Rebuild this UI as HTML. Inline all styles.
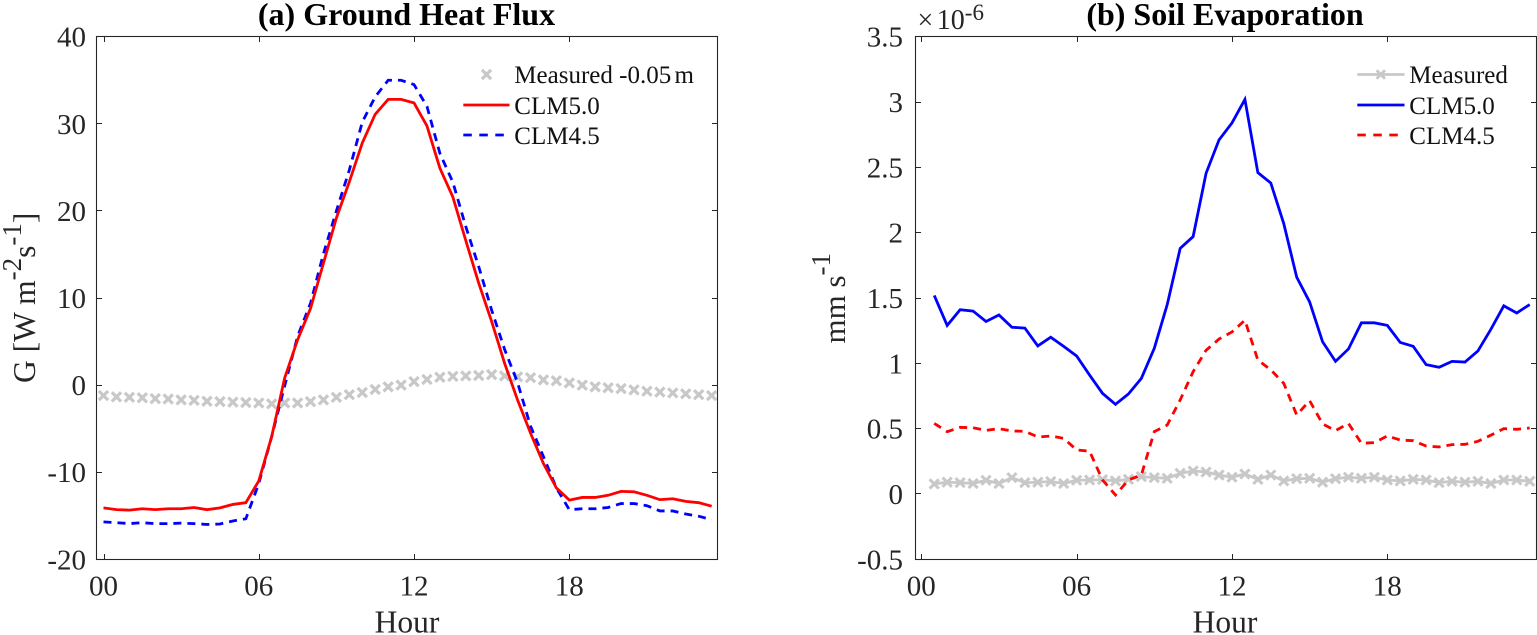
<!DOCTYPE html>
<html lang="en">
<head>
<meta charset="utf-8">
<title>Ground Heat Flux and Soil Evaporation</title>
<style>
html,body{margin:0;padding:0;background:#fff;}
body{width:1537px;height:635px;overflow:hidden;}
svg{display:block;font-family:"Liberation Serif",serif;}
</style>
</head>
<body>
<svg id="fig" xmlns="http://www.w3.org/2000/svg" width="1537" height="635" viewBox="0 0 1537 635"></svg>
<script>
var xTickValues = [0, 6, 12, 18];
var xTickLabels = ["00", "06", "12", "18"];

var hoursA = [0,0.5,1,1.5,2,2.5,3,3.5,4,4.5,5,5.5,6,6.5,7,7.5,8,8.5,9,9.5,10,10.5,11,11.5,12,12.5,13,13.5,14,14.5,15,15.5,16,16.5,17,17.5,18,18.5,19,19.5,20,20.5,21,21.5,22,22.5,23,23.5];
var groundMeasured = [-1.2,-1.35,-1.4,-1.45,-1.55,-1.6,-1.7,-1.75,-1.85,-1.9,-1.95,-2,-2.05,-2.15,-2.05,-2.05,-1.9,-1.7,-1.4,-1.1,-0.85,-0.5,-0.2,0,0.4,0.65,0.9,1,1.05,1.1,1.2,1.05,0.95,0.85,0.6,0.5,0.25,0,-0.2,-0.3,-0.4,-0.55,-0.7,-0.8,-0.9,-1,-1.1,-1.2];
var groundClm50 = [-14.1,-14.3,-14.35,-14.2,-14.3,-14.2,-14.2,-14.05,-14.3,-14.1,-13.7,-13.5,-11,-5.9,0.8,5.2,8.8,14,19.2,23.35,27.8,31.1,32.8,32.8,32.4,29.75,24.9,21.6,16.6,11.7,7.3,2.5,-1.7,-5.5,-9,-11.8,-13.2,-12.9,-12.9,-12.65,-12.2,-12.25,-12.65,-13.15,-13.05,-13.35,-13.5,-13.9];
var groundClm45 = [-15.7,-15.8,-15.9,-15.8,-15.9,-15.9,-15.85,-15.9,-16,-15.95,-15.6,-15.35,-11.3,-5.9,-0.1,5.6,9.4,15.1,20,24.7,30.2,33.1,35,35,34.5,32,26.6,23.3,18.2,13.6,8.6,4.1,0.3,-4.7,-8.2,-11.8,-14.3,-14.2,-14.2,-14.05,-13.6,-13.6,-13.85,-14.45,-14.45,-14.8,-15.05,-15.45];
var yTicksA = [-20,-10,0,10,20,30,40];
var yTickLabelsA = ["-20","-10","0","10","20","30","40"];

var hoursB = [0.5,1,1.5,2,2.5,3,3.5,4,4.5,5,5.5,6,6.5,7,7.5,8,8.5,9,9.5,10,10.5,11,11.5,12,12.5,13,13.5,14,14.5,15,15.5,16,16.5,17,17.5,18,18.5,19,19.5,20,20.5,21,21.5,22,22.5,23,23.5];
var evapMeasured = [0.077,0.09,0.087,0.08,0.105,0.08,0.125,0.087,0.09,0.095,0.08,0.105,0.107,0.11,0.1,0.112,0.133,0.125,0.12,0.158,0.176,0.168,0.145,0.128,0.153,0.112,0.145,0.1,0.117,0.12,0.09,0.117,0.128,0.12,0.128,0.107,0.1,0.112,0.107,0.087,0.097,0.09,0.097,0.08,0.107,0.107,0.097];
var evapClm50 = [1.52,1.29,1.41,1.4,1.32,1.37,1.276,1.27,1.133,1.2,1.13,1.056,0.91,0.77,0.686,0.765,0.885,1.115,1.45,1.88,1.97,2.455,2.71,2.84,3.02,2.46,2.38,2.07,1.66,1.47,1.165,1.015,1.11,1.31,1.31,1.29,1.16,1.13,0.99,0.97,1.015,1.01,1.095,1.26,1.44,1.385,1.45];
var evapClm45 = [0.54,0.477,0.51,0.507,0.487,0.5,0.482,0.48,0.436,0.444,0.426,0.337,0.327,0.107,-0.008,0.107,0.145,0.477,0.528,0.72,0.936,1.1,1.186,1.24,1.33,1.025,0.95,0.847,0.605,0.714,0.536,0.485,0.54,0.388,0.393,0.444,0.413,0.408,0.367,0.36,0.378,0.38,0.403,0.45,0.5,0.495,0.505];
var yTicksB = [-0.5,0,0.5,1,1.5,2,2.5,3,3.5];
var yTickLabelsB = ["-0.5","0","0.5","1","1.5","2","2.5","3","3.5"];

var SVGNS = "http://www.w3.org/2000/svg";
var fig = document.getElementById("fig");
var AXIS = "#262626", RED = "#ff0000", BLUE = "#0000ff", GRAY = "#c8c8c8";

function mk(tag, parent, attrs, text) {
  var el = document.createElementNS(SVGNS, tag);
  for (var k in attrs) el.setAttribute(k, attrs[k]);
  if (text !== undefined) el.textContent = text;
  parent.appendChild(el);
  return el;
}
function scaleLinear(d0, d1, r0, r1) {
  return function (v) { return r0 + (v - d0) * (r1 - r0) / (d1 - d0); };
}
function drawCross(parent, cx, cy, r, sw, color) {
  return mk("path", parent, {
    d: "M" + (cx - r) + " " + (cy - r) + "L" + (cx + r) + " " + (cy + r) + "M" + (cx - r) + " " + (cy + r) + "L" + (cx + r) + " " + (cy - r),
    fill: "none", stroke: color, "stroke-width": sw
  });
}
function linePoints(xs, ys, sx, sy) {
  return xs.map(function (h, i) { return sx(h).toFixed(2) + "," + sy(ys[i]).toFixed(2); }).join(" ");
}
function drawAxes(g, box, sx, sy, yTicks, yLabels, labelRight) {
  var frame = mk("rect", g, {x: box.l, y: box.t, width: box.r - box.l, height: box.b - box.t, fill: "none", stroke: AXIS, "stroke-width": 1.1});
  
  
  xTickValues.forEach(function (v, i) {
    var x = Math.round(sx(v)) + 0.5;
    var t = mk("path", g, {d: "M" + x + " " + box.b + "v-5.5M" + x + " " + box.t + "v5.5", stroke: AXIS, "stroke-width": 1, fill: "none"});
    
    
    var lab = mk("text", g, {x: sx(v), y: 595.5, "text-anchor": "middle", "font-size": 29, fill: AXIS}, xTickLabels[i]);
    
    
  });
  yTicks.forEach(function (v, i) {
    var y = Math.round(sy(v) - 0.5) + 0.5;
    var t = mk("path", g, {d: "M" + box.l + " " + y + "h5.5M" + box.r + " " + y + "h-5.5", stroke: AXIS, "stroke-width": 1, fill: "none"});
    
    
    var lab = mk("text", g, {x: labelRight, y: sy(v) + 10, "text-anchor": "end", "font-size": 29, fill: AXIS}, yLabels[i]);
    
    
  });
}

/* ---------- panel (a) ---------- */
var boxA = {l: 96.5, r: 717.5, t: 36.5, b: 559.5};
var sxA = scaleLinear(0, 18, 103.5, 569.3);
var syA = scaleLinear(-20, 40, 559.3, 36.7);
var gA = mk("g", fig, {});



var gMeas = mk("g", gA, {});


hoursA.forEach(function (h, i) {
  var m = drawCross(gMeas, sxA(h), syA(groundMeasured[i]), 4.6, 3.2, GRAY);
  
  
});
var lineA45 = mk("polyline", gA, {points: linePoints(hoursA, groundClm45, sxA, syA), fill: "none", stroke: BLUE, "stroke-width": 2.8, "stroke-dasharray": "8 6"});


var lineA50 = mk("polyline", gA, {points: linePoints(hoursA, groundClm50, sxA, syA), fill: "none", stroke: RED, "stroke-width": 2.8});


drawAxes(gA, boxA, sxA, syA, yTicksA, yTickLabelsA, 86);

var titleA = mk("text", gA, {x: 406.5, y: 25, "text-anchor": "middle", "font-size": 32, "font-weight": "bold", fill: "#000"}, "(a) Ground Heat Flux");


var xTitleA = mk("text", gA, {x: 407, y: 632.5, "text-anchor": "middle", "font-size": 31.5, fill: AXIS}, "Hour");



var yTitleA = mk("text", gA, {transform: "translate(35,383) rotate(-90)", "font-size": 31.5, fill: AXIS});


mk("tspan", yTitleA, {}, "G [W m");
mk("tspan", yTitleA, {dy: -14, "font-size": 27}, "-2");
mk("tspan", yTitleA, {dy: 14}, "s");
mk("tspan", yTitleA, {dy: -14, "font-size": 27}, "-1");
mk("tspan", yTitleA, {dy: 14}, "]");

var legA = mk("g", gA, {});


var la1 = drawCross(legA, 486.5, 74.5, 4.6, 3.2, GRAY);


var la1t = mk("text", legA, {x: 514.3, y: 83, "font-size": 25, fill: "#111"}, "Measured -0.05 ");


mk("tspan", la1t, {dx: -3}, "m");
var la2 = mk("line", legA, {x1: 463.3, x2: 509.5, y1: 105, y2: 105, stroke: RED, "stroke-width": 2.8});


var la2t = mk("text", legA, {x: 514.3, y: 114, "font-size": 25, fill: "#111"}, "CLM5.0");


var la3 = mk("line", legA, {x1: 463.3, x2: 509.5, y1: 135, y2: 135, stroke: BLUE, "stroke-width": 2.8, "stroke-dasharray": "8.5 7.5"});


var la3t = mk("text", legA, {x: 514.3, y: 144, "font-size": 25, fill: "#111"}, "CLM4.5");



/* ---------- panel (b) ---------- */
var boxB = {l: 915.5, r: 1536.5, t: 36.5, b: 559.5};
var sxB = scaleLinear(0, 18, 921.3, 1387.3);
var syB = scaleLinear(-0.5, 3.5, 559.3, 36.7);
var gB = mk("g", fig, {});



var lineBMeas = mk("polyline", gB, {points: linePoints(hoursB, evapMeasured, sxB, syB), fill: "none", stroke: GRAY, "stroke-width": 2.8});


var gMeasB = mk("g", gB, {});


hoursB.forEach(function (h, i) {
  var m = drawCross(gMeasB, sxB(h), syB(evapMeasured[i]), 4.6, 3, GRAY);
  
  
});
var lineB45 = mk("polyline", gB, {points: linePoints(hoursB, evapClm45, sxB, syB), fill: "none", stroke: RED, "stroke-width": 2.8, "stroke-dasharray": "8 6"});


var lineB50 = mk("polyline", gB, {points: linePoints(hoursB, evapClm50, sxB, syB), fill: "none", stroke: BLUE, "stroke-width": 2.8});


drawAxes(gB, boxB, sxB, syB, yTicksB, yTickLabelsB, 903);

var titleB = mk("text", gB, {x: 1225, y: 25, "text-anchor": "middle", "font-size": 32, "font-weight": "bold", fill: "#000"}, "(b) Soil Evaporation");


var xTitleB = mk("text", gB, {x: 1225, y: 632.5, "text-anchor": "middle", "font-size": 31.5, fill: AXIS}, "Hour");



var yTitleB = mk("text", gB, {transform: "translate(845,343.5) rotate(-90)", "font-size": 31, fill: AXIS});


mk("tspan", yTitleB, {}, "mm s");
mk("tspan", yTitleB, {dy: -15, "font-size": 27}, "-1");

var expo = mk("text", gB, {x: 917.5, y: 29, "font-size": 28, fill: AXIS});


mk("tspan", expo, {}, "×");
mk("tspan", expo, {dx: 3.5}, "10");
mk("tspan", expo, {dy: -9, "font-size": 23}, "-6");

var legB = mk("g", gB, {});


var lb1 = mk("line", legB, {x1: 1357.3, x2: 1404.5, y1: 74.5, y2: 74.5, stroke: GRAY, "stroke-width": 2.8});


var lb1m = drawCross(legB, 1380.8, 74.5, 4.2, 2.8, GRAY);


var lb1t = mk("text", legB, {x: 1409.3, y: 83, "font-size": 25, fill: "#111"}, "Measured");


var lb2 = mk("line", legB, {x1: 1357.3, x2: 1404.5, y1: 105, y2: 105, stroke: BLUE, "stroke-width": 2.8});


var lb2t = mk("text", legB, {x: 1409.3, y: 114, "font-size": 25, fill: "#111"}, "CLM5.0");


var lb3 = mk("line", legB, {x1: 1357.3, x2: 1404.5, y1: 135, y2: 135, stroke: RED, "stroke-width": 2.8, "stroke-dasharray": "8.5 7.5"});


var lb3t = mk("text", legB, {x: 1409.3, y: 144, "font-size": 25, fill: "#111"}, "CLM4.5");


</script>
</body>
</html>
